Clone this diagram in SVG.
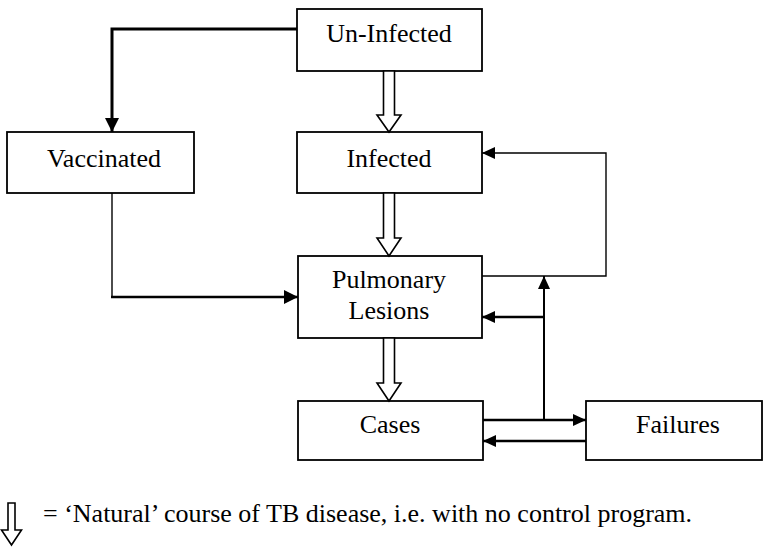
<svg xmlns="http://www.w3.org/2000/svg" width="763" height="547" viewBox="0 0 763 547">
<defs>
<marker id="ah" markerUnits="userSpaceOnUse" markerWidth="14" markerHeight="14" refX="14" refY="7" orient="auto">
<path d="M0,0 L14,7 L0,14 Z" fill="#000"/>
</marker>
<marker id="ahs" markerUnits="userSpaceOnUse" markerWidth="13" markerHeight="12" refX="13" refY="6" orient="auto">
<path d="M0,0 L13,6 L0,12 Z" fill="#000"/>
</marker>
</defs>
<rect width="763" height="547" fill="#fff"/>
<g fill="#fff" stroke="#000" stroke-width="1.8">
<g id="uninfected"><rect x="297" y="9" width="185" height="62"/></g>
<g id="vaccinated"><rect x="7" y="132" width="187" height="61"/></g>
<g id="infected"><rect x="297" y="132" width="185" height="61"/></g>
<g id="pulmonary"><rect x="298" y="256" width="184" height="82"/></g>
<g id="cases"><rect x="298" y="401" width="185" height="59"/></g>
<g id="failures"><rect x="586" y="401" width="176" height="59"/></g>
</g>
<text x="389" y="42" style="font-family:'Liberation Serif',serif;font-size:26px;text-anchor:middle;fill:#000">Un-Infected</text>
<text x="104" y="167" style="font-family:'Liberation Serif',serif;font-size:26px;text-anchor:middle;fill:#000">Vaccinated</text>
<text x="389" y="167" style="font-family:'Liberation Serif',serif;font-size:26px;text-anchor:middle;fill:#000">Infected</text>
<text x="389" y="288" style="font-family:'Liberation Serif',serif;font-size:26px;text-anchor:middle;fill:#000">Pulmonary</text>
<text x="389" y="319" style="font-family:'Liberation Serif',serif;font-size:26px;text-anchor:middle;fill:#000">Lesions</text>
<text x="390" y="433" style="font-family:'Liberation Serif',serif;font-size:26px;text-anchor:middle;fill:#000">Cases</text>
<text x="678" y="433" style="font-family:'Liberation Serif',serif;font-size:26px;text-anchor:middle;fill:#000">Failures</text>
<g id="connectors">
<g fill="#fff" stroke="#000" stroke-width="1.6">
<polygon points="383.5,71 394.5,71 394.5,115 401,115 389,132 377,115 383.5,115"/>
<polygon points="383.5,193 394.5,193 394.5,238 401,238 389,256 377,238 383.5,238"/>
<polygon points="383.5,338 394.5,338 394.5,383 401,383 389,401 377,383 383.5,383"/>
</g>
<g fill="none" stroke="#000">
<path d="M297,29 H112 V132" stroke-width="3" marker-end="url(#ah)"/>
<path d="M112,193 V297" stroke-width="1.4"/>
<path d="M111,297 H298" stroke-width="2.6" marker-end="url(#ah)"/>
<path d="M482,276 H606 V153 H482" stroke-width="1.4" marker-end="url(#ahs)"/>
<path d="M544,420 V276" stroke-width="2" marker-end="url(#ahs)"/>
<path d="M544,317 H482" stroke-width="2.6" marker-end="url(#ahs)"/>
<path d="M483,420 H586" stroke-width="2.6" marker-end="url(#ahs)"/>
<path d="M586,441 H483" stroke-width="2.6" marker-end="url(#ahs)"/>
</g>
</g>
<polygon points="8,503 15,503 15,530 21.5,530 11.5,545 1.5,530 8,530" fill="#fff" stroke="#000" stroke-width="1.6"/>
<text x="43" y="522" style="font-family:'Liberation Serif',serif;font-size:26px;fill:#000">= ‘Natural’ course of TB disease, i.e. with no control program.</text>
</svg>
